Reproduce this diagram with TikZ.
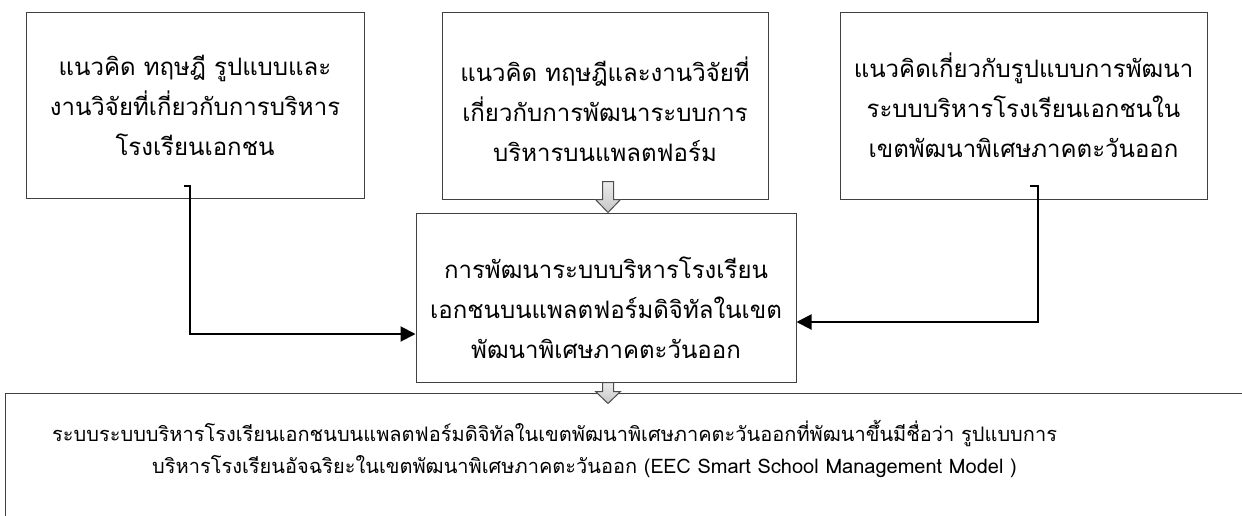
\documentclass[tikz,border=0pt]{standalone}
\usepackage{fontspec}
\newfontfamily\thai[Script=Thai]{Loma}
\usetikzlibrary{calc,arrows.meta}
\begin{document}
\begin{tikzpicture}[x=1pt,y=-1pt,
  box/.style={draw=black!75,line width=1pt,inner sep=0pt},
  boxtext/.style={inner sep=0pt,align=center,font=\thai\fontsize{24}{40}\selectfont},
  btext/.style={inner sep=0pt,anchor=base west,font=\thai\fontsize{20}{30}\selectfont},
  conn/.style={draw=black,line width=2pt,-{Triangle[length=15pt,width=15pt]}},
  hollow/.style={draw=black!70,line width=1pt,top color=gray!15,bottom color=gray!45,line join=miter}]
\useasboundingbox (0,0) rectangle (1242,515);
\clip (0,0) rectangle (1242,515);
\node[box,minimum width=338pt,minimum height=186pt] (b1) at (195,105) {};
\node[boxtext] (t1) at ($(b1.center)+(0,0)$)
  {แนวคิด ทฤษฎี รูปแบบและ\\งานวิจัยที่เกี่ยวกับการบริหาร\\โรงเรียนเอกชน};
\node[box,minimum width=326pt,minimum height=187pt] (b2) at (605,105.5) {};
\node[boxtext] (t2) at ($(b2.center)+(0,4)$)
  {แนวคิด ทฤษฎีและงานวิจัยที่\\เกี่ยวกับการพัฒนาระบบการ\\บริหารบนแพลตฟอร์ม};
\node[box,minimum width=367pt,minimum height=187pt] (b3) at (1023.5,105.5) {};
\node[boxtext] (t3) at ($(b3.center)+(0,0)$)
  {แนวคิดเกี่ยวกับรูปแบบการพัฒนา\\ระบบบริหารโรงเรียนเอกชนใน\\เขตพัฒนาพิเศษภาคตะวันออก};
\node[box,minimum width=380pt,minimum height=169pt] (c) at (606,297.5) {};
\node[boxtext] (tc) at ($(c.center)+(0,10)$)
  {การพัฒนาระบบบริหารโรงเรียน\\เอกชนบนแพลตฟอร์มดิจิทัลในเขต\\พัฒนาพิเศษภาคตะวันออก};
\node[box,minimum width=1260pt,minimum height=140pt,anchor=north west] (d) at (5,393) {};
\node[btext] (d1) at (52,441) {ระบบระบบบริหารโรงเรียนเอกชนบนแพลตฟอร์มดิจิทัลในเขตพัฒนาพิเศษภาคตะวันออกที่พัฒนาขึ้นมีชื่อว่า รูปแบบการ};
\node[btext] (d2) at (152,473) {บริหารโรงเรียนอัจฉริยะในเขตพัฒนาพิเศษภาคตะวันออก (EEC Smart School Management Model )};
% hollow arrows
\path[hollow] ($(c.north)+(-3.5,-31)$) -- ++(11,0) -- ++(0,18) -- ++(7,0) -- ($(c.north)+(2,0)$)
  -- ++(-12.5,-13) -- ++(7,0) -- cycle;
\path[hollow] ($(c.south)+(-3.5,0)$) -- ++(11,0) -- ++(0,9) -- ++(7,0) -- ($(c.south)+(2,21)$)
  -- ++(-12.5,-12) -- ++(7,0) -- cycle;
% connectors
\coordinate (l0) at (184,186);
\coordinate (l1) at (190,186);
\coordinate (l2) at (190,334);
\draw[conn] (l0) -- (l1) -- (l2) -- (c.west|-l2);
\coordinate (r0) at (1030,186);
\coordinate (r1) at (1038,186);
\coordinate (r2) at (1038,322);
\draw[conn] (r0) -- (r1) -- (r2) -- (c.east|-r2);
\end{tikzpicture}
\end{document}
